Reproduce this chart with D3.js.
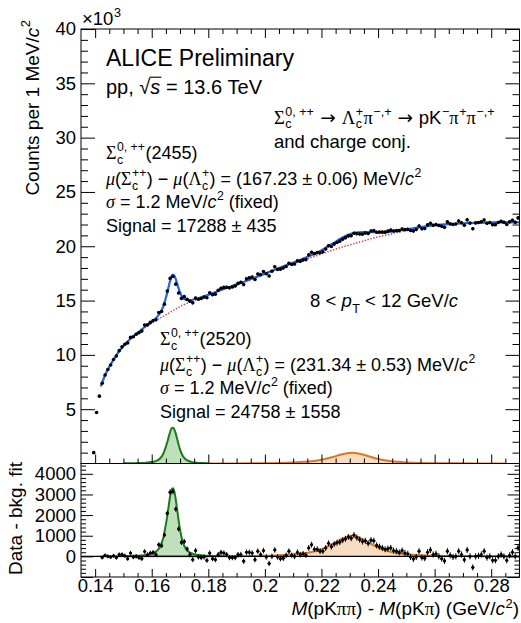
<!DOCTYPE html>
<html>
<head>
<meta charset="utf-8">
<script src="https://cdn.jsdelivr.net/npm/d3@7"></script>
<style>
html, body { margin: 0; padding: 0; background: #fff; }
</style>
</head>
<body>
<svg id="chart" width="521" height="623"></svg>
<script>
// ---- data ----
var binWidth = 0.001;          // 1 MeV/c2 bins
var topFirstBin = 0.1395;      // centre of first bin, upper panel
var resFirstBin = 0.1425;      // centre of first bin, lower panel

// counts per bin, x10^3
var topCounts = [
  1.0, 4.7, 6.2,
  7.39, 8.15, 8.65, 9.07, 9.58, 9.89, 10.39, 10.74, 10.98, 11.09,
  11.61, 11.67, 11.90, 12.04, 12.19, 12.74, 12.76, 12.99, 13.17, 13.23,
  13.90, 14.00, 14.67, 15.87, 17.04, 17.22, 16.51, 15.70, 15.20, 15.36,
  15.11, 14.93, 14.79, 15.23, 15.12, 15.19, 15.32, 15.26, 15.71, 15.54,
  15.59, 15.94, 16.14, 16.21, 16.23, 16.17, 16.26, 16.35, 16.58, 16.69,
  16.47, 17.00, 17.10, 17.16, 16.94, 17.45, 17.39, 17.68, 17.47, 17.26,
  17.70, 18.11, 17.87, 17.89, 18.00, 18.14, 18.43, 18.32, 18.36, 18.65,
  18.61, 18.74, 18.77, 19.21, 19.45, 19.32, 19.41, 19.40, 19.49, 19.74,
  20.05, 19.98, 20.20, 20.35, 20.47, 20.65, 20.79, 20.95, 20.97, 21.20,
  21.15, 21.13, 21.11, 21.22, 21.17, 21.40, 21.44, 21.29, 21.30, 21.30,
  21.30, 21.39, 21.48, 21.41, 21.44, 21.44, 21.59, 21.53, 21.55, 21.45,
  21.40, 21.54, 21.87, 21.61, 21.63, 21.97, 22.11, 21.93, 22.00, 21.91,
  21.83, 21.74, 22.24, 22.06, 22.00, 22.05, 22.32, 22.17, 21.94, 22.43,
  22.13, 21.61, 22.15, 22.18, 22.25, 22.42, 22.11, 22.18, 21.99, 21.99,
  22.19, 22.29, 22.20, 22.01, 22.25, 22.40, 22.20, 22.61
];

// data - bkg. fit, counts
var residuals = [
  -60, 50, 0, -30, 30, -60, 90, 90, 30, -110,
  160, -30, 0, -60, -110, 235, 80, 160, 190, 80,
  565, 520, 1040, 2090, 3110, 3140, 2290, 1330, 675, 720,
  360, 80, -160, 280, -30, -60, -30, -190, 160, -110,
  -160, 90, 190, 160, 90, -60, -60, -60, 80, 90,
  -235, 200, 200, 160, -160, 250, 90, 280, -30, -345,
  0, 310, -30, -110, -90, 50, 250, 50, 0, 200,
  80, 125, 60, 410, 565, 345, 345, 250, 250, 410,
  630, 470, 600, 660, 690, 785, 850, 940, 880, 1035,
  910, 815, 720, 755, 630, 785, 755, 535, 470, 410,
  345, 375, 410, 280, 250, 190, 280, 160, 125, -30,
  -125, -30, 250, -60, -90, 200, 310, 90, 125, 0,
  -110, -220, 250, 50, -30, 0, 250, 90, -160, 310,
  0, -535, 0, 30, 90, 250, -60, 0, -190, -190,
  0, 90, 0, -190, 50, 200, 0, 410
];

// fit curves sampled off the plot
var fitX = [
  0.1420, 0.1430, 0.1440, 0.1450, 0.1465, 0.1480, 0.1500, 0.1520, 0.1540, 0.1560, 0.1580, 0.1600,
  0.1610, 0.1620, 0.1630, 0.1640, 0.1650,
  0.1655, 0.1660, 0.1665, 0.1670, 0.1675, 0.1680, 0.1685, 0.1690, 0.1695, 0.1700,
  0.1710, 0.1720, 0.1730, 0.1740, 0.1760, 0.1780, 0.1800,
  0.1850, 0.1900, 0.1950, 0.2000, 0.2050, 0.2100, 0.2140, 0.2180,
  0.2210, 0.2240, 0.2270, 0.2290, 0.2310, 0.2330, 0.2350, 0.2370, 0.2390, 0.2410,
  0.2440, 0.2470, 0.2500, 0.2550, 0.2600, 0.2650, 0.2700, 0.2750, 0.2800, 0.2850, 0.2900
];
// background, x10^3
var fitBkg = [
  7.1, 7.8, 8.4, 8.9, 9.55, 10.15, 10.8, 11.35, 11.8, 12.2, 12.6, 12.9,
  13.05, 13.25, 13.4, 13.55, 13.7,
  13.78, 13.85, 13.93, 14.0, 14.08, 14.15, 14.22, 14.3, 14.37, 14.45,
  14.58, 14.7, 14.8, 14.9, 15.1, 15.3, 15.5,
  16.0, 16.45, 16.95, 17.45, 17.95, 18.4, 18.75, 19.1,
  19.38, 19.65, 19.9, 20.05, 20.2, 20.35, 20.5, 20.65, 20.8, 20.92,
  21.1, 21.28, 21.45, 21.7, 21.9, 22.02, 22.1, 22.15, 22.18, 22.2, 22.2
];
// Sigma_c(2455) signal, counts
var fitSig2455 = [
  3, 3, 4, 5, 6, 8, 12, 16, 24, 38, 65, 130,
  190, 290, 480, 850, 1550,
  1950, 2450, 2900, 3230, 3300, 3130, 2750, 2250, 1750, 1300,
  680, 380, 230, 150, 75, 45, 30,
  15, 9, 6, 4, 3, 3, 2, 2,
  2, 2, 2, 2, 2, 1, 1, 1, 1, 1,
  1, 1, 1, 1, 1, 1, 1, 1, 1, 1, 1
];
// Sigma_c(2520) signal, counts
var fitSig2520 = [
  0, 0, 0, 0, 0, 0, 0, 0, 0, 0, 1, 1,
  1, 1, 1, 1, 1,
  1, 1, 1, 1, 1, 1, 1, 1, 1, 2,
  2, 2, 2, 2, 2, 3, 3,
  5, 8, 14, 25, 50, 100, 160, 260,
  400, 600, 830, 950, 995, 930, 800, 640, 490, 360,
  230, 150, 100, 55, 33, 21, 14, 10, 7, 5, 4
];

var xTicks = [0.14, 0.16, 0.18, 0.2, 0.22, 0.24, 0.26, 0.28];
var yTopTicks = [5, 10, 15, 20, 25, 30, 35, 40];
var yBotTicks = [0, 1000, 2000, 3000, 4000];

// ---- setup ----
var SANS = '"Liberation Sans", Arial, Helvetica, sans-serif';
var SERIF = '"Liberation Serif", "Times New Roman", serif';
var svg = d3.select("#chart");
svg.append("rect").attr("width", 521).attr("height", 623).attr("fill", "#fff");

var L = 81, R = 519.5, topT = 29, topB = 463.5, botB = 577;
var x = d3.scaleLinear().domain([0.135, 0.29]).range([L, R]);
var yTop = d3.scaleLinear().domain([0, 40]).range([topB, topT]);
var yBot = d3.scaleLinear().domain([-1000, 4500]).range([botB, topB]);

var xMinor = d3.range(28, 58).map(d => d * 0.005).filter(d => Math.round(d * 1000) % 20 !== 0);
var yTopMinor = d3.range(1, 40).filter(d => d % 5 !== 0);
var yBotMinor = d3.range(-800, 4500, 200).filter(d => d % 1000 !== 0);

function axis(fn, scale, vals, size, tx, ty, fmt) {
  var a = fn(scale).tickValues(vals).tickSize(size).tickPadding(5)
    .tickFormat(fmt || (() => ""));
  var g = svg.append("g").attr("transform", "translate(" + tx + "," + ty + ")").call(a);
  g.select(".domain").remove();
  g.selectAll("line").attr("stroke", "#000");
  g.selectAll("text").attr("font-family", SANS).attr("font-size", 18.5).attr("fill", "#000");
  return g;
}

// clip paths
var defs = svg.append("defs");
defs.append("clipPath").attr("id", "clipTop").append("rect")
  .attr("x", L).attr("y", topT).attr("width", R - L).attr("height", topB - topT);
defs.append("clipPath").attr("id", "clipBot").append("rect")
  .attr("x", L).attr("y", topB).attr("width", R - L).attr("height", botB - topB);

var fit = fitX.map((d, i) => ({x: d, bkg: fitBkg[i], s1: fitSig2455[i], s2: fitSig2520[i]}));
var inRange = (a, b) => fit.filter(d => d.x >= a - 1e-9 && d.x <= b + 1e-9);

var GREEN = "#1d7a1d", GREENFILL = "#bfe0bb", ORANGE = "#e0761c", ORANGEFILL = "#f8dcc2";

// ---- upper panel ----
var gTop = svg.append("g").attr("clip-path", "url(#clipTop)");

var area1 = d3.area().curve(d3.curveMonotoneX).x(d => x(d.x)).y0(yTop(0)).y1(d => yTop(d.s1 / 1000));
var area2 = d3.area().curve(d3.curveMonotoneX).x(d => x(d.x)).y0(yTop(0)).y1(d => yTop(d.s2 / 1000));
var g1 = inRange(0.150, 0.180), g2 = inRange(0.180, 0.285);
gTop.append("path").datum(g1).attr("d", area1).attr("fill", GREENFILL);
gTop.append("path").datum(g2).attr("d", area2).attr("fill", ORANGEFILL);
gTop.append("path").datum(g1).attr("d", area1.lineY1()).attr("fill", "none").attr("stroke", GREEN).attr("stroke-width", 2);
gTop.append("path").datum(g2).attr("d", area2.lineY1()).attr("fill", "none").attr("stroke", ORANGE).attr("stroke-width", 2);

var bkgLine = d3.line().curve(d3.curveMonotoneX).x(d => x(d.x)).y(d => yTop(d.bkg));
var totLine = d3.line().curve(d3.curveMonotoneX).x(d => x(d.x)).y(d => yTop(d.bkg + (d.s1 + d.s2) / 1000));
gTop.append("path").datum(fit).attr("d", bkgLine).attr("fill", "none")
  .attr("stroke", "#e3342f").attr("stroke-width", 1.4).attr("stroke-dasharray", "1.4,1.6");
gTop.append("path").datum(fit).attr("d", totLine).attr("fill", "none")
  .attr("stroke", "#1e64f0").attr("stroke-width", 2.2);

var topData = topCounts.map((v, i) => ({x: topFirstBin + i * binWidth, y: v, e: Math.sqrt(v * 1000) / 1000}));
var pts = gTop.append("g");
pts.selectAll("line.v").data(topData).join("line")
  .attr("x1", d => x(d.x)).attr("x2", d => x(d.x))
  .attr("y1", d => yTop(d.y - d.e)).attr("y2", d => yTop(d.y + d.e))
  .attr("stroke", "#000").attr("stroke-width", 1);
pts.selectAll("circle").data(topData).join("circle")
  .attr("cx", d => x(d.x)).attr("cy", d => yTop(d.y)).attr("r", 1.8).attr("fill", "#000");

// ---- lower panel ----
var gBot = svg.append("g").attr("clip-path", "url(#clipBot)");
var bArea1 = d3.area().curve(d3.curveMonotoneX).x(d => x(d.x)).y0(yBot(0)).y1(d => yBot(d.s1));
var bArea2 = d3.area().curve(d3.curveMonotoneX).x(d => x(d.x)).y0(yBot(0)).y1(d => yBot(d.s2));
var b1 = inRange(0.150, 0.185);
gBot.append("path").datum(b1).attr("d", bArea1).attr("fill", GREENFILL);
gBot.append("path").datum(fit).attr("d", bArea2).attr("fill", ORANGEFILL);
gBot.append("path").datum(fit).attr("d", bArea2.lineY1()).attr("fill", "none").attr("stroke", ORANGE).attr("stroke-width", 2);
gBot.append("path").datum(b1).attr("d", bArea1.lineY1()).attr("fill", "none").attr("stroke", GREEN).attr("stroke-width", 2);
gBot.append("line").attr("x1", L).attr("x2", R).attr("y1", yBot(0)).attr("y2", yBot(0))
  .attr("stroke", "#000").attr("stroke-width", 1.3);

var resData = residuals.map((v, i) => ({x: resFirstBin + i * binWidth, y: v, e: Math.sqrt(topCounts[i + 3] * 1000)}));
var rp = gBot.append("g");
rp.selectAll("line.v").data(resData).join("line").attr("class", "v")
  .attr("x1", d => x(d.x)).attr("x2", d => x(d.x))
  .attr("y1", d => yBot(d.y - d.e)).attr("y2", d => yBot(d.y + d.e))
  .attr("stroke", "#000").attr("stroke-width", 1);
rp.selectAll("line.h").data(resData).join("line").attr("class", "h")
  .attr("x1", d => x(d.x - binWidth / 2)).attr("x2", d => x(d.x + binWidth / 2))
  .attr("y1", d => yBot(d.y)).attr("y2", d => yBot(d.y))
  .attr("stroke", "#000").attr("stroke-width", 1);
rp.selectAll("circle").data(resData).join("circle")
  .attr("cx", d => x(d.x)).attr("cy", d => yBot(d.y)).attr("r", 1.6).attr("fill", "#000");

// ---- frames and ticks ----
svg.append("rect").attr("x", L).attr("y", topT).attr("width", R - L).attr("height", topB - topT)
  .attr("fill", "none").attr("stroke", "#000").attr("stroke-width", 1);
svg.append("rect").attr("x", L).attr("y", topB).attr("width", R - L).attr("height", botB - topB)
  .attr("fill", "none").attr("stroke", "#000").attr("stroke-width", 1);

var fmtX = d => String(+d.toFixed(2));
// upper
axis(d3.axisLeft, yTop, yTopTicks, -14, L, 0, d => d);
axis(d3.axisLeft, yTop, yTopMinor, -7, L, 0);
axis(d3.axisRight, yTop, yTopTicks, -14, R, 0);
axis(d3.axisRight, yTop, yTopMinor, -7, R, 0);
axis(d3.axisTop, x, xTicks, -9, 0, topT);
axis(d3.axisTop, x, xMinor, -5, 0, topT);
axis(d3.axisBottom, x, xTicks, -9, 0, topB);
axis(d3.axisBottom, x, xMinor, -5, 0, topB);
// lower
axis(d3.axisLeft, yBot, yBotTicks, -12, L, 0, d => d);
axis(d3.axisLeft, yBot, [-1000], -12, L, 0);
axis(d3.axisLeft, yBot, yBotMinor, -5, L, 0);
axis(d3.axisRight, yBot, [-1000].concat(yBotTicks), -12, R, 0);
axis(d3.axisRight, yBot, yBotMinor, -5, R, 0);
axis(d3.axisBottom, x, xTicks, -8, 0, botB, fmtX).selectAll("text").attr("y", 2);
axis(d3.axisBottom, x, xMinor, -4, 0, botB);

// ---- text ----
function rich(parts, fs, subDown) {
  var g = svg.append("g"), cx = 0, dn = subDown || 0.3;
  function put(txt, x0, y0, size, p) {
    var t = g.append("text").attr("x", x0).attr("y", y0).attr("font-size", size)
      .attr("font-family", p && p.f ? p.f : (p && p.serif ? SERIF : SANS)).attr("fill", "#000")
      .text(txt.replace(/ /g, "\u00a0"));
    if (p && p.i) t.attr("font-style", "italic");
    return t.node().getComputedTextLength();
  }
  parts.forEach(function (p) {
    var s = fs * 0.68;
    if (typeof p === "string") { cx += put(p, cx, 0, fs); return; }
    if (p.stack) {
      var w1 = put(p.stack[0], cx + 0.5, fs * dn, s);
      var w2 = put(p.stack[1], cx + 0.5, -fs * 0.45, s);
      cx += Math.max(w1, w2) + 1;
    } else if (p.sup) cx += put(p.sup, cx + 0.5, -fs * (p.up || 0.45), s, p) + 0.5;
    else if (p.sub) cx += put(p.sub, cx + 0.5, fs * dn, s, p) + 0.5;
    else if (p.sqrt) {
      var w0 = put("\u221a", cx, 0, fs);
      var ws = put(p.sqrt, cx + w0, 0, fs, {i: true});
      g.append("line").attr("x1", cx + w0 - 1).attr("x2", cx + w0 + ws + 1)
        .attr("y1", -fs * 0.84).attr("y2", -fs * 0.84).attr("stroke", "#000").attr("stroke-width", 1.1);
      cx += w0 + ws;
    } else cx += put(p.t, cx, 0, fs, p);
  });
  return {g: g, w: cx};
}
function label(parts, fs, x0, y0, anchor, subDown) {
  var r = rich(parts, fs, subDown);
  r.g.attr("transform", "translate(" + (anchor === "end" ? x0 - r.w : x0) + "," + y0 + ")");
  return r;
}

var Sig = {t: "Σ", serif: true}, Lam = {t: "Λ", serif: true}, pi = {t: "π", serif: true};
var mu = {t: "μ", serif: true, i: true};
var arrow = {t: " → ", f: '"DejaVu Sans", sans-serif'};

label(["×10", {sup: "3"}], 18.5, 82, 25);

label(["ALICE Preliminary"], 23, 106, 66);
label(["pp, ", {sqrt: "s"}, " = 13.6 TeV"], 20, 106, 94);

label([Sig, {stack: ["c", "0, ++"]}, arrow, Lam, {stack: ["c", "+"]}, pi, {sup: "−,+"},
  arrow, "pK", {sup: "−"}, pi, {sup: "+"}, pi, {sup: "−,+"}], 18.5, 274, 124, null, 0.24);
label(["and charge conj."], 18.5, 274, 148);

function block(x0, y0, name, mean, signal) {
  label([Sig, {stack: ["c", "0, ++"]}, "(" + name + ")"], 18, x0, y0);
  label([mu, "(", Sig, {stack: ["c", "++"]}, ") − ", mu, "(", Lam, {stack: ["c", "+"]},
    ") = (" + mean + ") MeV/", {t: "c", i: true}, {sup: "2"}], 18, x0, y0 + 26);
  label([{t: "σ", serif: true, i: true}, " = 1.2 MeV/", {t: "c", i: true}, {sup: "2"}, " (fixed)"], 18, x0, y0 + 49);
  label(["Signal = " + signal], 18, x0, y0 + 73);
}
block(106, 159, "2455", "167.23 ± 0.06", "17288 ± 435");
block(160, 345, "2520", "231.34 ± 0.53", "24758 ± 1558");

label(["8 < ", {t: "p", i: true}, {sub: "T"}, " < 12 GeV/", {t: "c", i: true}], 18.5, 310, 307);

// axis titles
var yt = rich(["Counts per 1 MeV/", {t: "c", i: true}, {sup: "2"}], 19);
yt.g.attr("transform", "translate(39," + (20 + yt.w) + ") rotate(-90)");
var yb = rich(["Data - bkg. fit"], 19);
yb.g.attr("transform", "translate(22," + (462 + yb.w) + ") rotate(-90)");
label([{t: "M", i: true}, "(pK", pi, pi, ") - ", {t: "M", i: true}, "(pK", pi, ") (GeV/", {t: "c", i: true},
  {sup: "2", up: 0.38}, ")"], 19, 519, 615, "end");
</script>
</body>
</html>
